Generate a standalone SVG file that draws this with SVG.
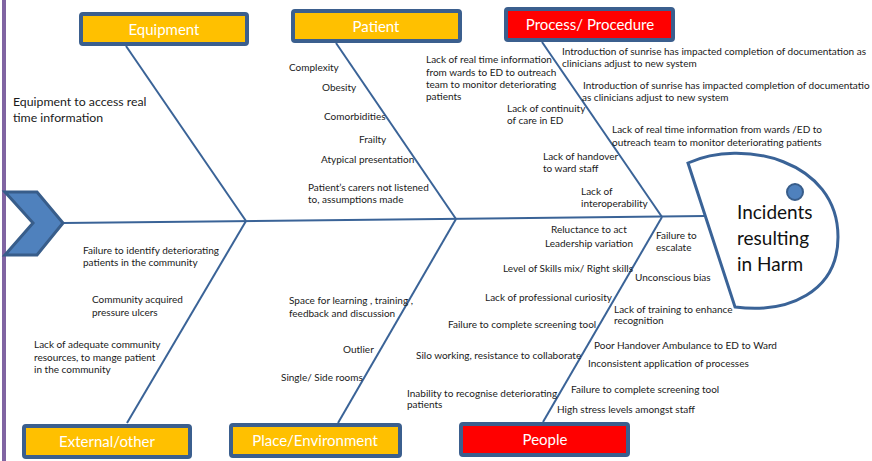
<svg xmlns="http://www.w3.org/2000/svg" width="872" height="461" viewBox="0 0 872 461">
<style>
.box{stroke:#3B5F8E;stroke-width:4;}
.y{fill:#FFC000;}
.r{fill:#FF0000;}
.bt{font-family:Lato,"Liberation Sans",sans-serif;font-size:15px;fill:#fff;text-anchor:middle;}
.t{font-family:Lato,"Liberation Sans",sans-serif;font-size:10px;fill:#1a1a1a;}
.tl{font-family:Lato,"Liberation Sans",sans-serif;font-size:12.3px;fill:#1a1a1a;}
.ht{font-family:Lato,"Liberation Sans",sans-serif;font-size:19px;fill:#111;}
.bone{stroke:#3A6397;stroke-width:2;fill:none;}
</style>
<rect width="872" height="461" fill="#fff"/>
<line x1="4" y1="0" x2="4" y2="461" stroke="#8064A2" stroke-width="4"/>
<g id="connectors">
<line class="bone" x1="63" y1="223" x2="705" y2="216"/>
<line class="bone" x1="126" y1="46" x2="246" y2="221"/>
<line class="bone" x1="336" y1="43" x2="456" y2="219"/>
<line class="bone" x1="542" y1="42" x2="662" y2="217"/>
<line class="bone" x1="246" y1="221" x2="127" y2="423"/>
<line class="bone" x1="456" y1="219" x2="338" y2="423"/>
<line class="bone" x1="662" y1="217" x2="543" y2="422"/>
</g>
<g id="tail">
<polygon points="5,192 37,192 63,223 37,255 5,255 33,223" fill="#4F81BD" stroke="#385D8A" stroke-width="3" stroke-linejoin="miter"/>
</g>
<g id="head">
<path d="M688,163 C742,138 838,160 838,237 C838,292 788,314 735,307 Z" fill="#fff" stroke="#3A6397" stroke-width="3"/>
<circle cx="795" cy="192" r="8" fill="#4F81BD" stroke="#385D8A" stroke-width="2"/>
<text class="ht" x="737" y="219">Incidents</text>
<text class="ht" x="737" y="245">resulting</text>
<text class="ht" x="737" y="271">in Harm</text>
</g>
<g id="equipment">
<rect class="box y" x="81" y="14" width="166" height="30" rx="2"/>
<text class="bt" x="164" y="35">Equipment</text>
<text class="tl" x="13" y="106">Equipment to access real</text>
<text class="tl" x="13" y="122">time information</text>
</g>
<g id="patient">
<rect class="box y" x="293" y="11" width="167" height="30" rx="2"/>
<text class="bt" x="376" y="32">Patient</text>
<text class="t" x="289" y="71">Complexity</text>
<text class="t" x="322" y="91">Obesity</text>
<text class="t" x="324" y="120">Comorbidities</text>
<text class="t" x="359" y="143">Frailty</text>
<text class="t" x="321" y="163">Atypical presentation</text>
<text class="t" x="308" y="191">Patient’s carers not listened</text>
<text class="t" x="308" y="203">to, assumptions made</text>
</g>
<g id="process">
<rect class="box r" x="506" y="9" width="167" height="31" rx="2"/>
<text class="bt" x="590" y="30">Process/ Procedure</text>
<text class="t" x="426" y="63">Lack of real time information</text>
<text class="t" x="426" y="76">from wards to ED to outreach</text>
<text class="t" x="426" y="88">team to monitor deteriorating</text>
<text class="t" x="426" y="100">patients</text>
<text class="t" x="562" y="55">Introduction of sunrise has impacted completion of documentation as</text>
<text class="t" x="562" y="67">clinicians adjust to new system</text>
<text class="t" x="583" y="89">Introduction of sunrise has impacted completion of documentatio</text>
<text class="t" x="582" y="101">as clinicians adjust to new system</text>
<text class="t" x="507" y="112">Lack of continuity</text>
<text class="t" x="507" y="124">of care in ED</text>
<text class="t" x="612" y="133">Lack of real time information from wards /ED to</text>
<text class="t" x="612" y="146">outreach team to monitor deteriorating patients</text>
<text class="t" x="543" y="160">Lack of handover</text>
<text class="t" x="543" y="172">to ward staff</text>
<text class="t" x="581" y="195">Lack of</text>
<text class="t" x="581" y="207">interoperability</text>
</g>
<g id="external">
<rect class="box y" x="24" y="426" width="166" height="31" rx="2"/>
<text class="bt" x="107" y="447">External/other</text>
<text class="t" x="83" y="254">Failure to identify deteriorating</text>
<text class="t" x="83" y="266">patients in the community</text>
<text class="t" x="92" y="303">Community acquired</text>
<text class="t" x="92" y="316">pressure ulcers</text>
<text class="t" x="34" y="348">Lack of adequate community</text>
<text class="t" x="34" y="361">resources, to mange patient</text>
<text class="t" x="34" y="373">in the community</text>
</g>
<g id="place">
<rect class="box y" x="231" y="425" width="169" height="31" rx="2"/>
<text class="bt" x="315" y="446">Place/Environment</text>
<text class="t" x="289" y="304">Space for learning , training ,</text>
<text class="t" x="289" y="317">feedback and discussion</text>
<text class="t" x="343" y="353">Outlier</text>
<text class="t" x="281" y="381">Single/ Side rooms</text>
</g>
<g id="people">
<rect class="box r" x="461" y="424" width="167" height="31" rx="2"/>
<text class="bt" x="545" y="445">People</text>
<text class="t" x="551" y="233">Reluctance to act</text>
<text class="t" x="545" y="247">Leadership variation</text>
<text class="t" x="656" y="239">Failure to</text>
<text class="t" x="656" y="251">escalate</text>
<text class="t" x="503" y="272">Level of Skills mix/ Right skills</text>
<text class="t" x="635" y="281">Unconscious bias</text>
<text class="t" x="485" y="301">Lack of professional curiosity</text>
<text class="t" x="614" y="313">Lack of training to enhance</text>
<text class="t" x="614" y="324">recognition</text>
<text class="t" x="448" y="328">Failure to complete screening tool</text>
<text class="t" x="594" y="349">Poor Handover Ambulance to ED to Ward</text>
<text class="t" x="416" y="359">Silo working, resistance to collaborate</text>
<text class="t" x="588" y="367">Inconsistent application of processes</text>
<text class="t" x="571" y="393">Failure to complete screening tool</text>
<text class="t" x="407" y="397">Inability to recognise deteriorating</text>
<text class="t" x="407" y="408">patients</text>
<text class="t" x="557" y="413">High stress levels amongst staff</text>
</g>
</svg>
